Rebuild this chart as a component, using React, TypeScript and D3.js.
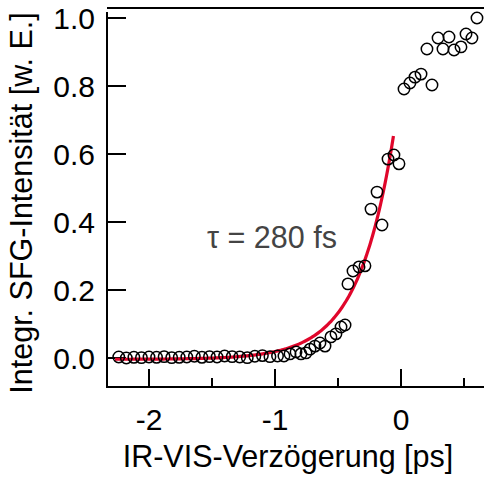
import React from "react";
import * as d3 from "d3";

// Pump-probe delay (ps) and integrated SFG intensity (arb. units)
const delays: number[] = [
  -2.24, -2.18, -2.12, -2.06, -2.0, -1.94, -1.88, -1.82, -1.76, -1.7, -1.64,
  -1.58, -1.52, -1.46, -1.4, -1.34, -1.28, -1.22, -1.16, -1.1, -1.04, -0.98,
  -0.929, -0.881, -0.833, -0.794, -0.754, -0.722, -0.683, -0.643, -0.603,
  -0.556, -0.516, -0.476, -0.444, -0.421, -0.381, -0.333, -0.286, -0.238,
  -0.19, -0.151, -0.103, -0.056, -0.016, 0.024, 0.071, 0.111, 0.159, 0.206,
  0.246, 0.294, 0.333, 0.381, 0.421, 0.476, 0.516, 0.563, 0.603,
];
const intensities: number[] = [
  0.003, 0.0, 0.002, 0.001, 0.003, 0.002, 0.004, 0.001, 0.002, 0.003, 0.005,
  0.002, 0.004, 0.003, 0.006, 0.004, 0.003, 0.001, 0.005, 0.007, 0.004, 0.006,
  0.006, 0.012, 0.018, 0.012, 0.015, 0.026, 0.035, 0.044, 0.035,
  0.062, 0.071, 0.091, 0.097, 0.218, 0.256, 0.268, 0.271, 0.438,
  0.488, 0.391, 0.585, 0.597, 0.571, 0.791, 0.809, 0.826, 0.835, 0.909,
  0.803, 0.941, 0.909, 0.944, 0.906, 0.915, 0.953, 0.941, 1.0,
];

// Exponential rise fit: offset + amplitude * exp(t / tau)
const fitTau = 0.28; // ps
const fitAmplitude = 0.814;
const fitOffset = -0.004;
const fitRange: [number, number] = [-2.27, -0.06];

const xTicksMajor = [-2, -1, 0];
const xTicksMinor = [-1.5, -0.5, 0.5];
const yTicks = [0, 0.2, 0.4, 0.6, 0.8, 1.0];

const W = 484;
const H = 478;
const FONT = "'Liberation Sans', Arial, Helvetica, sans-serif";

export default function App() {
  const left = 107;
  const right = 484;
  const axisBottom = 387;
  const axisTop = 12;

  const x = d3.scaleLinear().domain([-2, 0]).range([149, 401]);
  const y = d3.scaleLinear().domain([0, 1]).range([358, 18]);

  const fitPoints: [number, number][] = d3
    .range(0, 201)
    .map((i) => fitRange[0] + ((fitRange[1] - fitRange[0]) * i) / 200)
    .map((t) => [t, fitOffset + fitAmplitude * Math.exp(t / fitTau)]);

  const line = d3
    .line<[number, number]>()
    .x((d) => x(d[0]))
    .y((d) => y(d[1]))
    .curve(d3.curveLinear);

  const points = delays.map((t, i) => ({ t, v: intensities[i] }));

  return (
    <svg
      width={W}
      height={H}
      style={{ position: "absolute", left: 0, top: 0, background: "#fff" }}
      fontFamily={FONT}
    >
      {/* frame */}
      <line x1={left} x2={right} y1={8} y2={8} stroke="#000" strokeWidth={2} />
      <line x1={left} x2={left} y1={axisTop} y2={axisBottom + 1} stroke="#000" strokeWidth={2} />
      <line x1={left} x2={right} y1={axisBottom} y2={axisBottom} stroke="#000" strokeWidth={2} />

      {/* y ticks */}
      {yTicks.map((v) => (
        <g key={"y" + v}>
          <line x1={left} x2={left + 19} y1={y(v)} y2={y(v)} stroke="#000" strokeWidth={2} />
          <text x={95} y={y(v)} dy="0.36em" textAnchor="end" fontSize={30} fill="#000">
            {v.toFixed(1)}
          </text>
        </g>
      ))}

      {/* x ticks */}
      {xTicksMajor.map((t) => (
        <g key={"x" + t}>
          <line x1={x(t)} x2={x(t)} y1={axisBottom} y2={axisBottom - 18} stroke="#000" strokeWidth={2} />
          <text x={x(t)} y={430} textAnchor="middle" fontSize={30} fill="#000">
            {t === 0 ? "0" : String(t)}
          </text>
        </g>
      ))}
      {xTicksMinor.map((t) => (
        <line key={"xm" + t} x1={x(t)} x2={x(t)} y1={axisBottom} y2={axisBottom - 9} stroke="#000" strokeWidth={2} />
      ))}

      {/* axis titles */}
      <text x={288} y={467} textAnchor="middle" fontSize={30.5} fill="#000">
        IR-VIS-Verzögerung [ps]
      </text>
      <text
        transform={`translate(32,${203}) rotate(-90)`}
        textAnchor="middle"
        fontSize={30.5}
        fill="#000"
      >
        Integr. SFG-Intensität [w. E.]
      </text>

      {/* fit curve */}
      <path d={line(fitPoints) ?? ""} fill="none" stroke="#e0062b" strokeWidth={3.2} />

      {/* measured points */}
      {points.map((p, i) => (
        <circle key={i} cx={x(p.t)} cy={y(p.v)} r={5.7} fill="none" stroke="#000" strokeWidth={1.5} />
      ))}

      <text x={207} y={248} fontSize={30.5} fill="#444">
        τ = 280 fs
      </text>
    </svg>
  );
}
